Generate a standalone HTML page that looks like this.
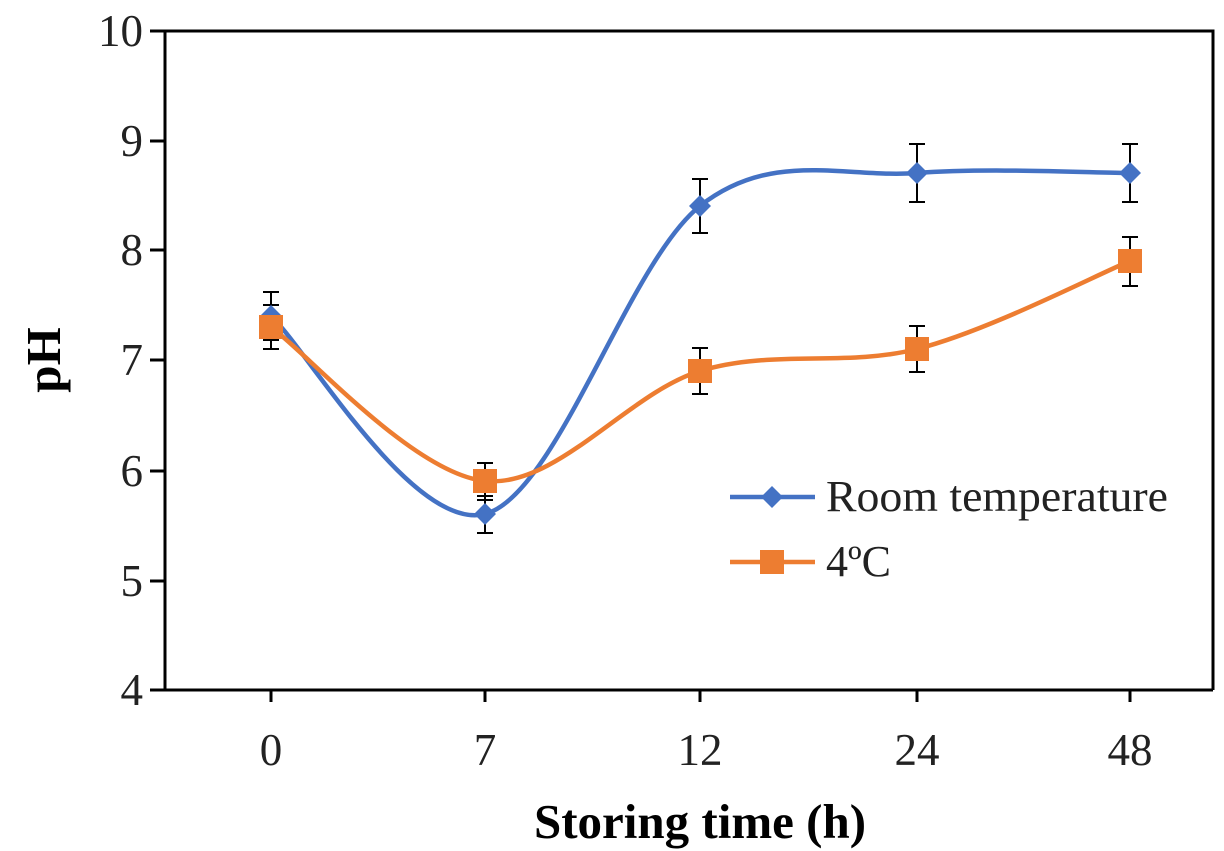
<!DOCTYPE html>
<html><head><meta charset="utf-8"><style>body{margin:0;background:#fff}svg{display:block}</style></head>
<body>
<svg width="1224" height="851" viewBox="0 0 1224 851" xmlns="http://www.w3.org/2000/svg" font-family="Liberation Serif, serif">
<rect width="1224" height="851" fill="#fff"/>
<g stroke="#000" stroke-width="3" fill="none">
<path d="M150 31H1213V690"/>
<path d="M165 31V690H1213"/>
<path d="M150 141H165M150 250H165M150 360H165M150 471H165M150 581H165M150 690H165"/>
<path d="M271 690V702M485 690V702M700 690V702M917 690V702M1130 690V702"/>
</g>
<g font-size="45" fill="#222" text-anchor="end">
<text x="143" y="46">10</text><text x="143" y="156">9</text><text x="143" y="265">8</text><text x="143" y="375">7</text><text x="143" y="486">6</text><text x="143" y="596">5</text><text x="143" y="705">4</text>
</g>
<g font-size="45" fill="#222" text-anchor="middle">
<text x="271" y="765">0</text><text x="485" y="765">7</text><text x="700" y="765">12</text><text x="917" y="765">24</text><text x="1130" y="765">48</text>
</g>
<text x="700" y="838" font-size="49" font-weight="bold" text-anchor="middle">Storing time (h)</text>
<text transform="translate(60,360) rotate(-90)" font-size="49" font-weight="bold" text-anchor="middle">pH</text>
<g stroke="#000" stroke-width="2" fill="none">
<path d="M271 292V340M263 292H279M263 340H279"/>
<path d="M485 496V533M477 496H493M477 533H493"/>
<path d="M700 179V233M692 179H708M692 233H708"/>
<path d="M917 144V202M909 144H925M909 202H925"/>
<path d="M1130 144V202M1122 144H1138M1122 202H1138"/>
<path d="M271 305V349M263 305H279M263 349H279"/>
<path d="M485 463V500M477 463H493M477 500H493"/>
<path d="M700 348V394M692 348H708M692 394H708"/>
<path d="M917 326V372M909 326H925M909 372H925"/>
<path d="M1130 237V286M1122 237H1138M1122 286H1138"/>
</g>
<path d="M271 316C306.7 349 413.5 532.3 485 514C556.5 495.7 628 262.8 700 206C772 149.2 845.3 178.5 917 173C988.7 167.5 1094.5 173 1130 173" stroke="#4472C4" stroke-width="4.5" fill="none"/>
<path d="M271 327C306.7 352.7 413.5 473.7 485 481C556.5 488.3 628 393 700 371C772 349 845.3 367.3 917 349C988.7 330.7 1094.5 275.7 1130 261" stroke="#ED7D31" stroke-width="4.5" fill="none"/>
<g fill="#4472C4">
<path d="M271 305l11 11-11 11-11-11z"/><path d="M485 503l11 11-11 11-11-11z"/><path d="M700 195l11 11-11 11-11-11z"/><path d="M917 162l11 11-11 11-11-11z"/><path d="M1130 162l11 11-11 11-11-11z"/>
</g>
<g fill="#ED7D31">
<rect x="259" y="315" width="24" height="24"/><rect x="473" y="469" width="24" height="24"/><rect x="688" y="359" width="24" height="24"/><rect x="905" y="337" width="24" height="24"/><rect x="1118" y="249" width="24" height="24"/>
</g>
<line x1="730" y1="497" x2="815" y2="497" stroke="#4472C4" stroke-width="4.5"/>
<path d="M772 486l11 11-11 11-11-11z" fill="#4472C4"/>
<text x="826" y="511" font-size="44" fill="#222" textLength="342" lengthAdjust="spacingAndGlyphs">Room temperature</text>
<line x1="730" y1="562" x2="815" y2="562" stroke="#ED7D31" stroke-width="4.5"/>
<rect x="760" y="550" width="24" height="24" fill="#ED7D31"/>
<text x="826" y="576" font-size="44" fill="#222">4ºC</text>
</svg>
</body></html>
